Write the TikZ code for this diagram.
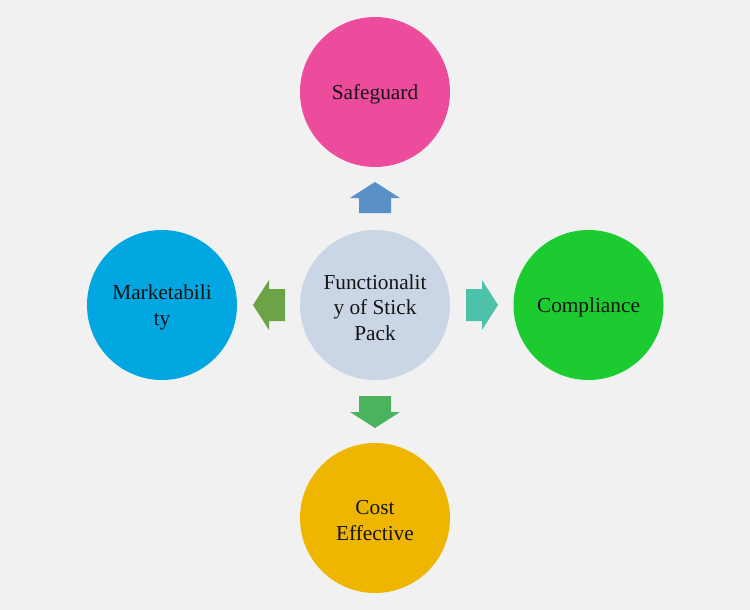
\documentclass[tikz,border=0pt]{standalone}
\usepackage{fontspec}
\setmainfont{Liberation Serif}
\definecolor{bg}{HTML}{F1F1F1}
\definecolor{cpink}{HTML}{EC4C9B}
\definecolor{cblue}{HTML}{02A6E0}
\definecolor{cgreen}{HTML}{1BCB2F}
\definecolor{cyellow}{HTML}{EFB601}
\definecolor{ccenter}{HTML}{CAD6E6}
\definecolor{aup}{HTML}{5A90C8}
\definecolor{aleft}{HTML}{6BA346}
\definecolor{aright}{HTML}{4DC1AA}
\definecolor{adown}{HTML}{4AB35D}
\definecolor{txt}{HTML}{141414}
\tikzset{
  bubble/.style={circle, minimum size=150pt, inner sep=0pt, draw=none},
  btext/.style={align=center, inner sep=0pt, yshift=-2.5pt,
     font=\fontsize{21.3}{25.5}\selectfont, text=txt}
}
\begin{document}
\begin{tikzpicture}[x=1pt,y=-1pt]
\fill[bg] (0,0) rectangle (750,610);
\useasboundingbox (0,0) rectangle (750,610);
\node[bubble, fill=ccenter] (center) at (375,305) {};
\node[btext] (centerT) at (center.center) {Functionalit\\y of Stick\\Pack};
\node[bubble, fill=cpink] (top) at (375,92) {};
\node[btext] (topT) at (top.center) {Safeguard};
\node[bubble, fill=cblue] (left) at (162,305) {};
\node[btext] (leftT) at (left.center) {Marketabili\\ty};
\node[bubble, fill=cgreen] (right) at (588.5,305) {};
\node[btext] (rightT) at (right.center) {Compliance};
\node[bubble, fill=cyellow] (bottom) at (375,518) {};
\node[btext] (bottomT) at (bottom.center) {Cost\\Effective};
% up arrow
\coordinate (au) at (375,182);
\fill[aup] (au) -- ++(25,16) -- ++(-9,0) -- ++(0,15) -- ++(-32,0) -- ++(0,-15) -- ++(-9,0) -- cycle;
% down arrow
\coordinate (ad) at (375,428);
\fill[adown] (ad) -- ++(25,-16) -- ++(-9,0) -- ++(0,-16) -- ++(-32,0) -- ++(0,16) -- ++(-9,0) -- cycle;
% left arrow
\coordinate (al) at (253,305);
\fill[aleft] (al) -- ++(16,-25) -- ++(0,9) -- ++(16,0) -- ++(0,32) -- ++(-16,0) -- ++(0,9) -- cycle;
% right arrow
\coordinate (ar) at (498,305);
\fill[aright] (ar) -- ++(-16,-25) -- ++(0,9) -- ++(-16,0) -- ++(0,32) -- ++(16,0) -- ++(0,9) -- cycle;
\end{tikzpicture}
\end{document}
